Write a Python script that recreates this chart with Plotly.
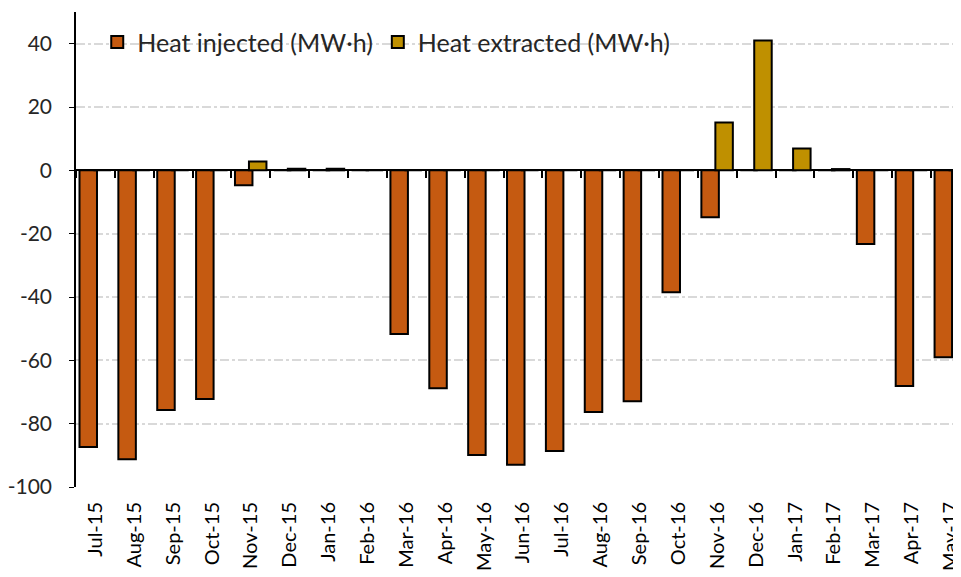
import plotly.graph_objects as go

months = ["Jul-15", "Aug-15", "Sep-15", "Oct-15", "Nov-15", "Dec-15", "Jan-16", "Feb-16",
          "Mar-16", "Apr-16", "May-16", "Jun-16", "Jul-16", "Aug-16", "Sep-16", "Oct-16",
          "Nov-16", "Dec-16", "Jan-17", "Feb-17", "Mar-17", "Apr-17", "May-17"]
heat_injected = [-87.4, -91.2, -75.7, -72.2, -4.7, 0, 0, 0, -51.7, -68.8, -89.9, -93.0,
                 -88.6, -76.3, -72.9, -38.5, -14.8, 0, 0, 0, -23.3, -68.1, -59.0]
heat_extracted = [0, 0, 0, 0, 2.8, 0.5, 0.5, 0, 0, 0, 0, 0,
                  0, 0, 0, 0, 15.1, 41.0, 6.9, 0.4, 0, 0, 0]
y_ticks = [-100, -80, -60, -40, -20, 0, 20, 40]
y_tick_labels = [str(v) for v in y_ticks]

FONT = "Lato"
n = len(months)
xr = [-0.5, n - 0.73]

fig = go.Figure()
fig.add_trace(go.Bar(
    x=months, y=heat_injected, name="Heat injected (MW\u00b7h)",
    marker=dict(color="#C55A11", line=dict(color="black", width=2)),
    width=0.45, offset=-0.41, xaxis="x", yaxis="y",
))
fig.add_trace(go.Bar(
    x=months, y=heat_extracted, name="Heat extracted (MW\u00b7h)",
    marker=dict(color="#BF9000", line=dict(color="black", width=2)),
    width=0.45, offset=-0.05, xaxis="x2", yaxis="y",
))

fig.update_layout(
    width=953, height=569,
    margin=dict(l=68, r=0, t=4, b=90),
    paper_bgcolor="white", plot_bgcolor="white",
    barmode="overlay",
    font=dict(family=FONT, size=20, color="#262626"),
    legend=dict(orientation="h", x=0.024, y=0.985, xanchor="left", yanchor="top",
                font=dict(family=FONT, size=25, color="#262626"),
                bgcolor="rgba(0,0,0,0)", itemwidth=30),
    xaxis=dict(type="category", categoryorder="array", categoryarray=months,
               range=xr, tickangle=-90, ticks="", showline=False, showgrid=False,
               tickfont=dict(family=FONT, size=20, color="black"),
               ticklabelstandoff=10, automargin=False),
    xaxis2=dict(type="category", categoryorder="array", categoryarray=months,
                range=xr, overlaying="x", anchor="free", position=100 / 150,
                side="bottom", ticks="outside", tickson="boundaries", ticklen=7,
                tickwidth=1.5, tickcolor="black", showticklabels=False,
                showline=False, showgrid=False, automargin=False),
    yaxis=dict(range=[-100, 50], tickvals=y_ticks, ticktext=y_tick_labels,
               showline=True, linecolor="black",
               linewidth=1.5, ticks="outside", ticklen=5, tickcolor="black",
               showgrid=True, gridcolor="#D9D9D9", gridwidth=1.5, griddash="dashdot",
               zeroline=True, zerolinecolor="black", zerolinewidth=2,
               tickfont=dict(family=FONT, size=21, color="#262626"),
               ticklabelstandoff=13, automargin=False),
)

fig.write_html("out.html")
